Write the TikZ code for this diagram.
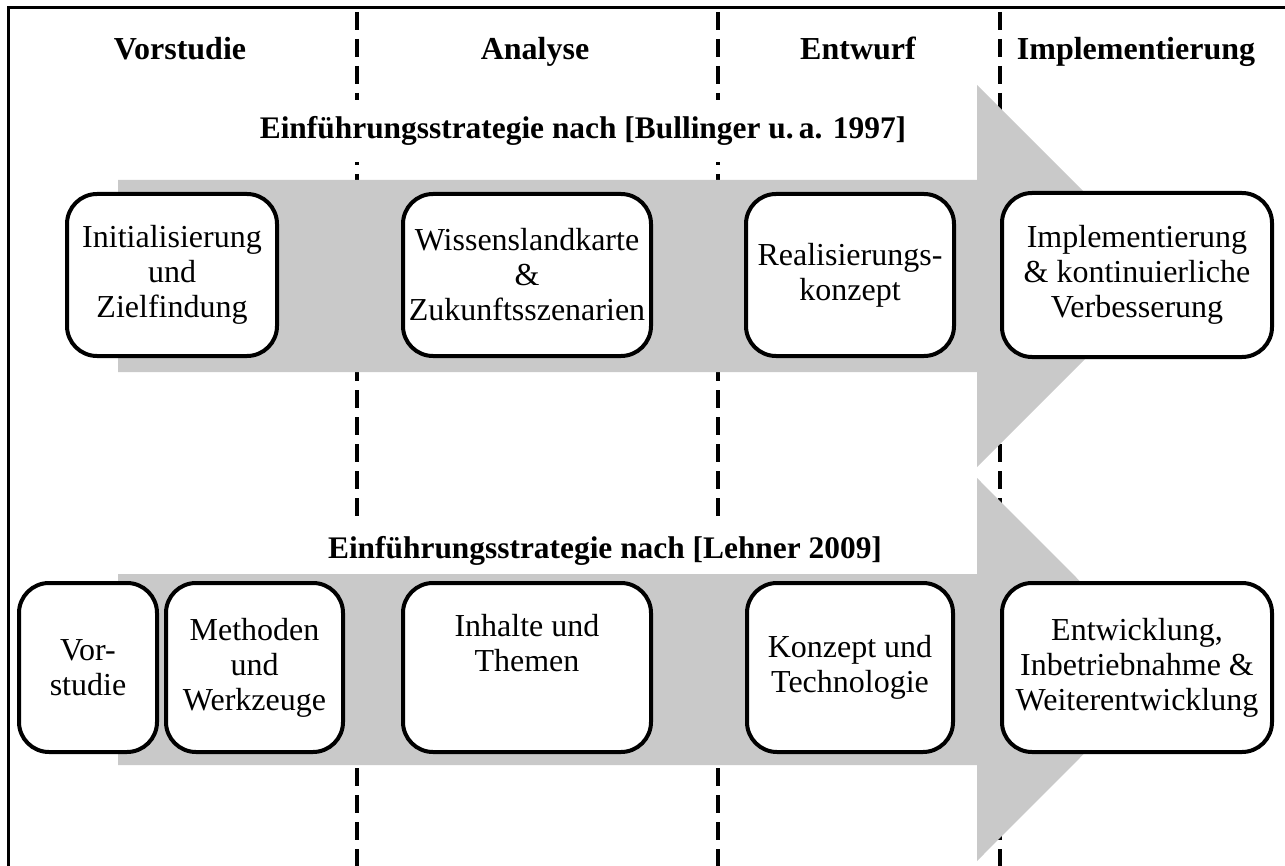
\documentclass[tikz,border=0pt]{standalone}
\usepackage{fontspec}
\setmainfont{Liberation Serif}
\definecolor{arrowgray}{HTML}{C9C9C9}
\begin{document}
\begin{tikzpicture}[x=0.5pt,y=-0.5pt,
  phase/.style={font=\fontsize{16}{18}\selectfont\bfseries, inner sep=0pt, anchor=base},
  strategy/.style={font=\fontsize{15.7}{18}\selectfont\bfseries, fill=white, inner xsep=2pt, inner ysep=8pt},
  stage/.style={draw, line width=2pt, rounded corners=15pt, fill=white, align=center,
    inner sep=0pt, font=\fontsize{16}{17.5}\selectfont},
  divider/.style={line width=2pt, dash pattern=on 9pt off 4.5pt},
  band/.style={fill=arrowgray, draw=none}]
\useasboundingbox (0,0) rectangle (1285,866);

% frame (left and top edges)
\coordinate (fbl) at (8,866);
\coordinate (ftl) at (8,8);
\coordinate (ftr) at (1285,8);
\draw[line width=1.5pt] (fbl) -- (ftl) -- (ftr);

% phase dividers
\foreach \n/\x in {1/357, 2/718, 3/1000} {
  \coordinate (d\n t) at (\x,12);
  \coordinate (d\n b) at (\x,866);
  \draw[divider] (d\n t) -- (d\n b);
}

% phase headings
\node[phase] (hV) at (180,60) {Vorstudie};
\node[phase] (hA) at (535,60) {Analyse};
\node[phase] (hE) at (858,60) {Entwurf};
\node[phase] (hI) at (1136,60) {Implementierung};

% strategy titles (white backing interrupts the dividers)
\node[strategy] (t1) at (583,131) {Einführungsstrategie nach [Bullinger u.\,a. 1997]};
\node[strategy] (t2) at (605,551) {Einführungsstrategie nach [Lehner 2009]};

% process arrows
\fill[band] (118,180) -- (977,180) -- (977,85) -- (1168,276) -- (977,467) -- (977,372) -- (118,372) -- cycle;
\fill[band] (118,574) -- (977,574) -- (977,478) -- (1168,669.5) -- (977,861) -- (977,765) -- (118,765) -- cycle;

% stages after Bullinger
\node[stage, minimum width=105pt, minimum height=81pt] (b1) at (172,275) {Initialisierung\\und\\Zielfindung};
\node[stage, minimum width=124pt, minimum height=81pt] (b2) at (527,275) {Wissenslandkarte\\\&\\Zukunftsszenarien};
\node[stage, minimum width=104pt, minimum height=81pt] (b3) at (850,275) {Realisierungs-\\konzept};
\node[stage, minimum width=135pt, minimum height=82pt] (b4) at (1137,275) {Implementierung\\\& kontinuierliche\\Verbesserung};

% stages after Lehner
\node[stage, minimum width=69pt, minimum height=84.5pt] (l1) at (88,667.5) {Vor-\\studie};
\node[stage, minimum width=88.5pt, minimum height=84.5pt] (l2) at (254.5,667.5) {Methoden\\und\\Werkzeuge};
\node[stage, minimum width=124pt, minimum height=84.5pt,
  label={[font=\fontsize{16}{17.5}\selectfont, align=center, yshift=12pt]center:Inhalte und\\Themen}] (l3) at (527,667.5) {};
\node[stage, minimum width=103pt, minimum height=84.5pt] (l4) at (850,667.5) {Konzept und\\Technologie};
\node[stage, minimum width=135pt, minimum height=84.5pt] (l5) at (1137,667.5) {Entwicklung,\\Inbetriebnahme \&\\Weiterentwicklung};
\end{tikzpicture}
\end{document}
